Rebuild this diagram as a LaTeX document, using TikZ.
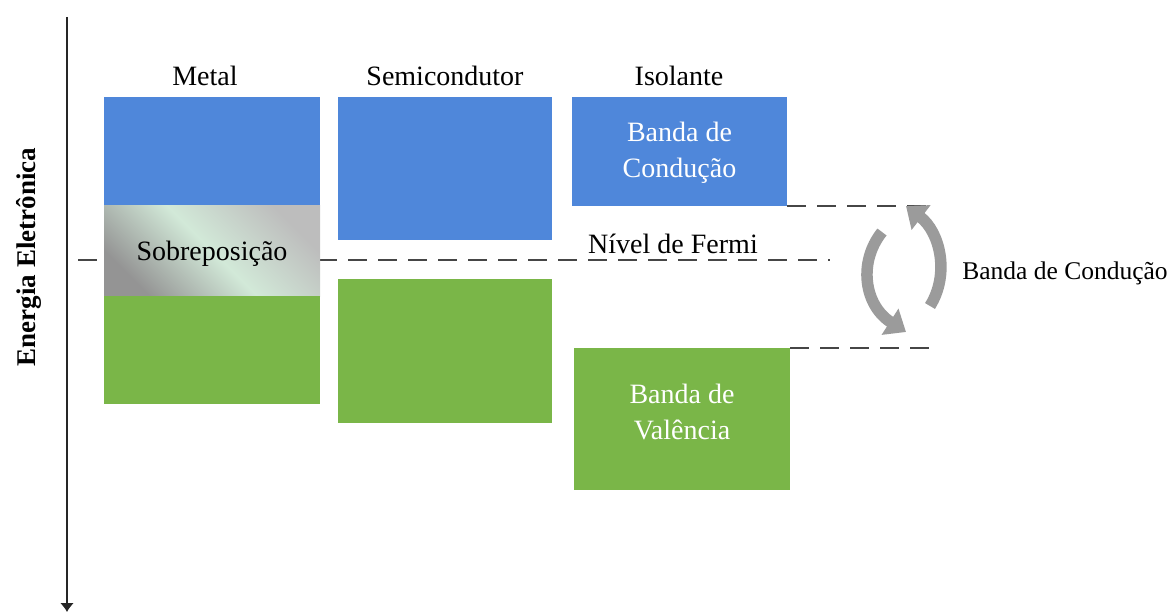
\documentclass[tikz,border=0pt]{standalone}
\usepackage{fontspec}
\setmainfont{Liberation Serif}
\usetikzlibrary{arrows.meta}
\definecolor{bandblue}{RGB}{79,135,218}
\definecolor{bandgreen}{RGB}{122,182,72}
\definecolor{arrowgray}{RGB}{155,155,155}
\definecolor{dashgray}{RGB}{70,70,70}
\begin{document}
\begin{tikzpicture}[x=1pt,y=-1pt,
  band/.style={anchor=north west,inner sep=0pt,outer sep=0pt,draw=none,align=center,
    font=\fontsize{28}{37}\selectfont},
  blueband/.style={band,fill=bandblue,text=white},
  greenband/.style={band,fill=bandgreen,text=white},
  bandtext/.style={inner sep=0pt,align=center,font=\fontsize{28}{36}\selectfont},
  title/.style={font=\fontsize{28}{34}\selectfont,inner sep=0pt},
  dashline/.style={draw=dashgray,line width=1.4pt,dash pattern=on 19pt off 11pt},
  cyclearrow/.style={draw=arrowgray,line width=11.5pt,-{Triangle[length=19pt,width=30pt]}}]
\useasboundingbox (0,0) rectangle (1171,615);
% axis
\coordinate (axtop) at (67,17);
\coordinate (axbot) at (67,612);
\draw[line width=1.6pt,draw=black!85,-{Latex[length=9pt,width=14pt]}] (axtop) -- (axbot);
\node[rotate=90,font=\bfseries\fontsize{27}{32}\selectfont,inner sep=0pt] (axlabel) at (29,257) {Energia Eletrônica};
% Fermi level line (behind boxes)
\coordinate (fermiL) at (78,260);
\coordinate (fermiR) at (830,260);
\draw[dashline] (fermiL) -- (fermiR);
% Metal
\node[blueband,minimum width=216pt,minimum height=109pt] (metC) at (104,97) {};
\node[band,minimum width=216pt,minimum height=90pt,
  left color=black!42,right color=black!26,middle color={rgb,255:red,210;green,233;blue,216},
  shading angle=135] (metO) at (104,206) {};
\node[bandtext,text=black] (metOtext) at ([yshift=-3pt]metO.center) {Sobreposição};
\node[greenband,minimum width=216pt,minimum height=108pt] (metV) at (104,296) {};
% Semiconductor
\node[blueband,minimum width=214pt,minimum height=143pt] (semC) at (338,97) {};
\node[greenband,minimum width=214pt,minimum height=144pt] (semV) at (338,279) {};
% Insulator
\node[blueband,minimum width=215pt,minimum height=109pt] (isoC) at (572,97) {};
\node[bandtext,text=white] (isoCtext) at ([yshift=-1pt]isoC.center) {Banda de\\Condução};
\node[greenband,minimum width=216pt,minimum height=142pt] (isoV) at (574,348) {};
\node[bandtext,text=white] (isoVtext) at ([yshift=7pt]isoV.center) {Banda de\\Valência};
% titles
\node[title] (tMetal) at (205,76) {Metal};
\node[title] (tSemi) at (445,76) {Semicondutor};
\node[title] (tIso) at (679,76) {Isolante};
\node[title] (fermi) at (673,244) {Nível de Fermi};
% gap lines
\coordinate (gapTop) at (930,206);
\coordinate (gapBot) at (930,348);
\draw[dashline] (isoC.south east) -- (gapTop);
\draw[dashline] (isoV.north east) -- (gapBot);
% cycle arrows
\coordinate (la1) at (882,232);
\coordinate (la2) at (906,332);
\coordinate (ra1) at (930,306);
\coordinate (ra2) at (906,206);
\draw[cyclearrow] (la1) .. controls (858,262) and (864,305) .. (la2);
\draw[cyclearrow] (ra1) .. controls (950,274) and (940,232) .. (ra2);
\node[font=\fontsize{25.5}{30}\selectfont,inner sep=0pt] (gaplabel) at (1065,273) {Banda de Condução};
\end{tikzpicture}
\end{document}
